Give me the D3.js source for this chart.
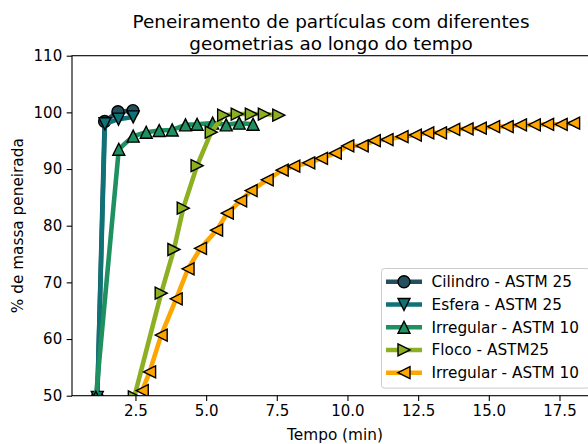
<!DOCTYPE html>
<html lang="pt">
<head>
<meta charset="UTF-8">
<title>Peneiramento de partículas</title>
<script src="https://d3js.org/d3.v7.min.js"></script>
<style>
  html, body { margin: 0; padding: 0; background: #fff; }
  svg { display: block; font-family: "DejaVu Sans", sans-serif; }
  .axis path, .axis line { stroke: #000; stroke-width: 1.1px; }
  .axis text { font-size: 15px; fill: #000; font-family: "DejaVu Sans", sans-serif; }
</style>
</head>
<body>
<svg width="588" height="444"></svg>
<script>
// tempo (min) e % de massa peneirada
const cilindroT = [1.15, 1.41, 1.88, 2.41];
const cilindroY = [49.7, 98.4, 100.1, 100.3];

const esferaT = [1.15, 1.42, 1.9, 2.42];
const esferaY = [49.7, 98.0, 98.8, 99.2];

const irreg10T = [1.1, 1.91, 2.42, 2.88, 3.34, 3.8, 4.27, 4.68, 5.23, 5.71, 6.17, 6.66];
const irreg10Y = [49.7, 93.5, 95.8, 96.5, 96.8, 96.9, 97.8, 97.9, 98.1, 97.8, 98.1, 97.9];

const flocoT = [2.46, 3.41, 3.86, 4.19, 4.68, 5.18, 5.62, 6.1, 6.6, 7.06, 7.57];
const flocoY = [49.8, 68.1, 75.8, 83.1, 90.6, 96.5, 99.5, 99.7, 99.7, 99.7, 99.5];

const irregLaranjaT = [2.74, 3.0, 3.41, 3.94, 4.36, 4.8, 5.37, 5.75, 6.22, 6.59, 7.16, 7.69,
  8.1, 8.63, 9.08, 9.57, 10.01, 10.52, 10.95, 11.4, 11.93, 12.4, 12.84, 13.29, 13.76,
  14.23, 14.7, 15.17, 15.65, 16.12, 16.61, 17.08, 17.56, 18.0];
const irregLaranjaY = [50.9, 54.2, 60.7, 67.1, 72.4, 76.0, 79.2, 82.2, 84.4, 86.2, 88.1, 89.8,
  90.5, 91.1, 91.9, 92.8, 94.1, 94.1, 95.0, 95.2, 95.7, 96.0, 96.4, 96.4, 97.0,
  97.1, 97.2, 97.5, 97.5, 97.8, 97.8, 97.9, 97.9, 98.1];

const seriesNames = ["Cilindro - ASTM 25", "Esfera - ASTM 25", "Irregular - ASTM 10", "Floco - ASTM25", "Irregular - ASTM 10"];
const seriesColors = ["#23505f", "#0f7277", "#1f9060", "#8cb021", "#ffa500"];
const seriesMarkers = ["circle", "down", "up", "right", "left"];
const seriesT = [cilindroT, esferaT, irreg10T, flocoT, irregLaranjaT];
const seriesY = [cilindroY, esferaY, irreg10Y, flocoY, irregLaranjaY];

const xTicks = [2.5, 5.0, 7.5, 10.0, 12.5, 15.0, 17.5];
const yTicks = [50, 60, 70, 80, 90, 100, 110];

const svg = d3.select("svg");
const pLeft = 72, pTop = 55.7, pBottom = 395.7, pRight = 597.5;

// margem de 5% como no matplotlib
const allT = seriesT.flat();
const [tMin, tMax] = d3.extent(allT);
const pad = (tMax - tMin) * 0.05;
const x = d3.scaleLinear().domain([tMin - pad, tMax + pad]).range([pLeft, pRight]);
const y = d3.scaleLinear().domain([50, 110]).range([pBottom, pTop]);

svg.append("defs").append("clipPath").attr("id", "plot")
  .append("rect").attr("x", pLeft).attr("y", pTop).attr("width", pRight - pLeft).attr("height", pBottom - pTop);

function markerPath(kind, s) {
  const h = s / 2;
  const pts = {
    up: [[0, -h], [-h, h], [h, h]],
    down: [[0, h], [-h, -h], [h, -h]],
    right: [[h, 0], [-h, -h], [-h, h]],
    left: [[-h, 0], [h, -h], [h, h]]
  }[kind];
  return "M" + pts.map(p => p.join(",")).join("L") + "Z";
}

function drawMarker(g, kind, color, cx, cy) {
  const ms = 12;
  if (kind === "circle") {
    g.append("circle").attr("cx", cx).attr("cy", cy).attr("r", ms / 2)
      .attr("fill", color).attr("stroke", "#000").attr("stroke-width", 1.4);
  } else {
    g.append("path").attr("d", markerPath(kind, ms))
      .attr("transform", `translate(${cx},${cy})`)
      .attr("fill", color).attr("stroke", "#000").attr("stroke-width", 1.4)
      .attr("stroke-linejoin", "miter");
  }
}

// séries
const plot = svg.append("g").attr("clip-path", "url(#plot)");
const line = d3.line().x(d => x(d[0])).y(d => y(d[1]));
seriesT.forEach((ts, i) => {
  const pts = ts.map((t, j) => [t, seriesY[i][j]]);
  const g = plot.append("g");
  g.append("path").datum(pts).attr("d", line)
    .attr("fill", "none").attr("stroke", seriesColors[i]).attr("stroke-width", 4.6)
    .attr("stroke-linejoin", "round").attr("stroke-linecap", "butt");
  pts.forEach(p => drawMarker(g, seriesMarkers[i], seriesColors[i], x(p[0]), y(p[1])));
});

// eixos
svg.append("g").attr("class", "axis").attr("transform", `translate(0,${pBottom})`)
  .call(d3.axisBottom(x).tickValues(xTicks).tickFormat(d3.format(".1f")).tickSize(5.3).tickPadding(4.5).tickSizeOuter(0));
svg.append("g").attr("class", "axis").attr("transform", `translate(${pLeft},0)`)
  .call(d3.axisLeft(y).tickValues(yTicks).tickFormat(d3.format("d")).tickSize(5.3).tickPadding(4.5).tickSizeOuter(0));
svg.selectAll(".axis .domain").remove();

// moldura
svg.append("rect").attr("x", pLeft).attr("y", pTop).attr("width", pRight - pLeft).attr("height", pBottom - pTop)
  .attr("fill", "none").attr("stroke", "#000").attr("stroke-width", 1.1);

// títulos
svg.append("text").attr("x", 331).attr("y", 28).attr("text-anchor", "middle")
  .attr("font-size", 18.4).text("Peneiramento de partículas com diferentes");
svg.append("text").attr("x", 331).attr("y", 50).attr("text-anchor", "middle")
  .attr("font-size", 18.4).text("geometrias ao longo do tempo");
svg.append("text").attr("x", 335).attr("y", 440).attr("text-anchor", "middle")
  .attr("font-size", 15.3).text("Tempo (min)");
svg.append("text").attr("transform", `translate(23,${(pTop + pBottom) / 2}) rotate(-90)`)
  .attr("text-anchor", "middle").attr("font-size", 15.3).text("% de massa peneirada");

// legenda
const lg = svg.append("g");
const lgX = 381.5, lgY = 268.5, lgR = pRight - 7.6, lgB = pBottom - 7.6;
lg.append("rect").attr("x", lgX).attr("y", lgY).attr("width", lgR - lgX).attr("height", lgB - lgY)
  .attr("rx", 3).attr("fill", "#fff").attr("fill-opacity", 0.8).attr("stroke", "#cccccc").attr("stroke-width", 1);
seriesNames.forEach((name, i) => {
  const cy = 281.7 + i * 22.75;
  lg.append("line").attr("x1", 386).attr("x2", 422).attr("y1", cy).attr("y2", cy)
    .attr("stroke", seriesColors[i]).attr("stroke-width", 4.6);
  drawMarker(lg, seriesMarkers[i], seriesColors[i], 404, cy);
  lg.append("text").attr("x", 431.5).attr("y", cy).attr("dy", "0.36em")
    .attr("font-size", 15.3).text(name);
});
</script>
</body>
</html>
